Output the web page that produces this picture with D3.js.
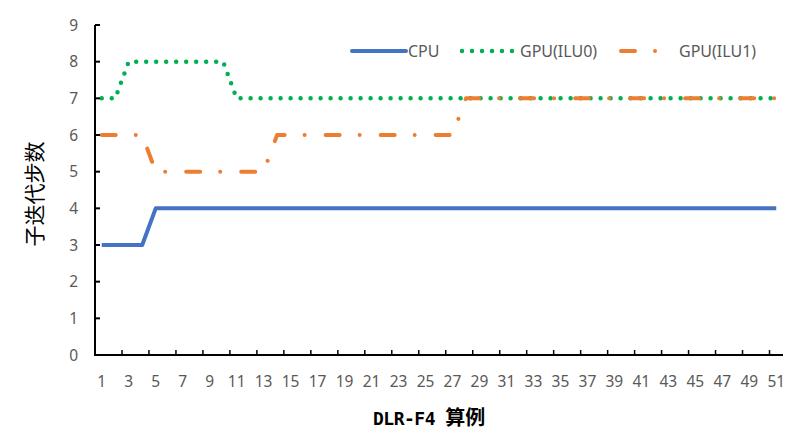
<!DOCTYPE html>
<html><head><meta charset="utf-8">
<script src="https://cdn.jsdelivr.net/npm/d3@7"></script>
<style>body{margin:0;background:#fff}</style>
</head><body>
<svg id="c" width="808" height="439"></svg>
<script>
const categories = d3.range(1, 52);
const cpu  = [3,3,3,3,4,4,4,4,4,4,4,4,4,4,4,4,4,4,4,4,4,4,4,4,4,4,4,4,4,4,4,4,4,4,4,4,4,4,4,4,4,4,4,4,4,4,4,4,4,4,4];
const ilu0 = [7,7,8,8,8,8,8,8,8,8,7,7,7,7,7,7,7,7,7,7,7,7,7,7,7,7,7,7,7,7,7,7,7,7,7,7,7,7,7,7,7,7,7,7,7,7,7,7,7,7,7];
const ilu1 = [6,6,6,6,5,5,5,5,5,5,5,5,5,6,6,6,6,6,6,6,6,6,6,6,6,6,6,7,7,7,7,7,7,7,7,7,7,7,7,7,7,7,7,7,7,7,7,7,7,7,7];
const yTicks = d3.range(0, 10);
const xTickLabels = categories.filter(d => d % 2 === 1);
const seriesNames = ["CPU", "GPU(ILU0)", "GPU(ILU1)"];

const svg = d3.select("#c");
const L = 95, R = 783, T = 25, B = 355;
const x = d3.scaleBand().domain(categories).range([L, R]).padding(0);
const y = d3.scaleLinear().domain([0, 9]).range([B, T]);
const cx = d => x(d) + x.bandwidth() / 2;

const styles = [
  {color: "#4472C4", dash: null, w: 4, cap: "butt"},
  {color: "#00B050", dash: "0,10", w: 4.5, cap: "round"},
  {color: "#ED7D31", dash: "14,20,0.01,21", w: 4, cap: "round"}
];
const data = [cpu, ilu0, ilu1];

const line = d3.line().x((d, i) => cx(categories[i])).y(d => y(d));
data.forEach((s, k) => {
  svg.append("path").attr("d", line(s)).attr("fill", "none")
    .attr("stroke", styles[k].color).attr("stroke-width", styles[k].w)
    .attr("stroke-linecap", styles[k].cap).attr("stroke-linejoin", "round")
    .attr("stroke-dasharray", styles[k].dash);
});

// axes
const tickColor = "#000";
svg.append("line").attr("x1", L).attr("x2", R).attr("y1", B).attr("y2", B).attr("stroke", tickColor).attr("stroke-width", 2);
svg.append("line").attr("x1", L).attr("x2", L).attr("y1", T).attr("y2", B + 1).attr("stroke", tickColor).attr("stroke-width", 2);
yTicks.forEach(t => {
  svg.append("line").attr("x1", L).attr("x2", L + 5).attr("y1", y(t)).attr("y2", y(t)).attr("stroke", tickColor).attr("stroke-width", 2);
  svg.append("text").attr("x", 78).attr("y", y(t) + 5.5).attr("text-anchor", "end")
    .attr("font-family", "Noto Sans").attr("font-size", 15.5).attr("fill", "#595959").text(t);
});
categories.filter(d => d % 2 === 0 && d < 51).forEach(d => {
  const xx = x(d) + x.bandwidth();
  svg.append("line").attr("x1", xx).attr("x2", xx).attr("y1", B).attr("y2", B - 5).attr("stroke", tickColor).attr("stroke-width", 1.5);
});
xTickLabels.forEach(d => {
  svg.append("text").attr("x", cx(d)).attr("y", 387).attr("text-anchor", "middle")
    .attr("font-family", "Noto Sans").attr("font-size", 15.5).attr("fill", "#595959").text(d);
});

// axis titles
svg.append("text").attr("transform", "translate(42,194) rotate(-90)").attr("text-anchor", "middle")
  .attr("font-family", "Noto Sans CJK SC").attr("font-size", 21).attr("fill", "#000").text("子迭代步数");
const xt = svg.append("text").attr("x", 373).attr("y", 425).attr("text-anchor", "start")
  .attr("font-weight", "bold").attr("fill", "#000");
xt.append("tspan").attr("font-family", "DejaVu Sans Mono").attr("font-size", 18).attr("letter-spacing", -0.5).text("DLR-F4 ");
xt.append("tspan").attr("font-family", "Noto Sans CJK SC").attr("font-size", 20).text("算例");

// legend
const leg = [{x1: 352, x2: 406, tx: 408}, {x1: 462, x2: 515, tx: 520}, {x1: 621, x2: 660, tx: 679}];
leg.forEach((g, k) => {
  svg.append("line").attr("x1", g.x1).attr("x2", g.x2).attr("y1", 51).attr("y2", 51)
    .attr("stroke", styles[k].color).attr("stroke-width", styles[k].w)
    .attr("stroke-linecap", k === 0 ? "round" : styles[k].cap).attr("stroke-dasharray", styles[k].dash);
  svg.append("text").attr("x", g.tx).attr("y", 57).attr("font-family", "Noto Sans").attr("font-size", 16)
    .attr("fill", "#595959").text(seriesNames[k]);
});
</script>
</body></html>
